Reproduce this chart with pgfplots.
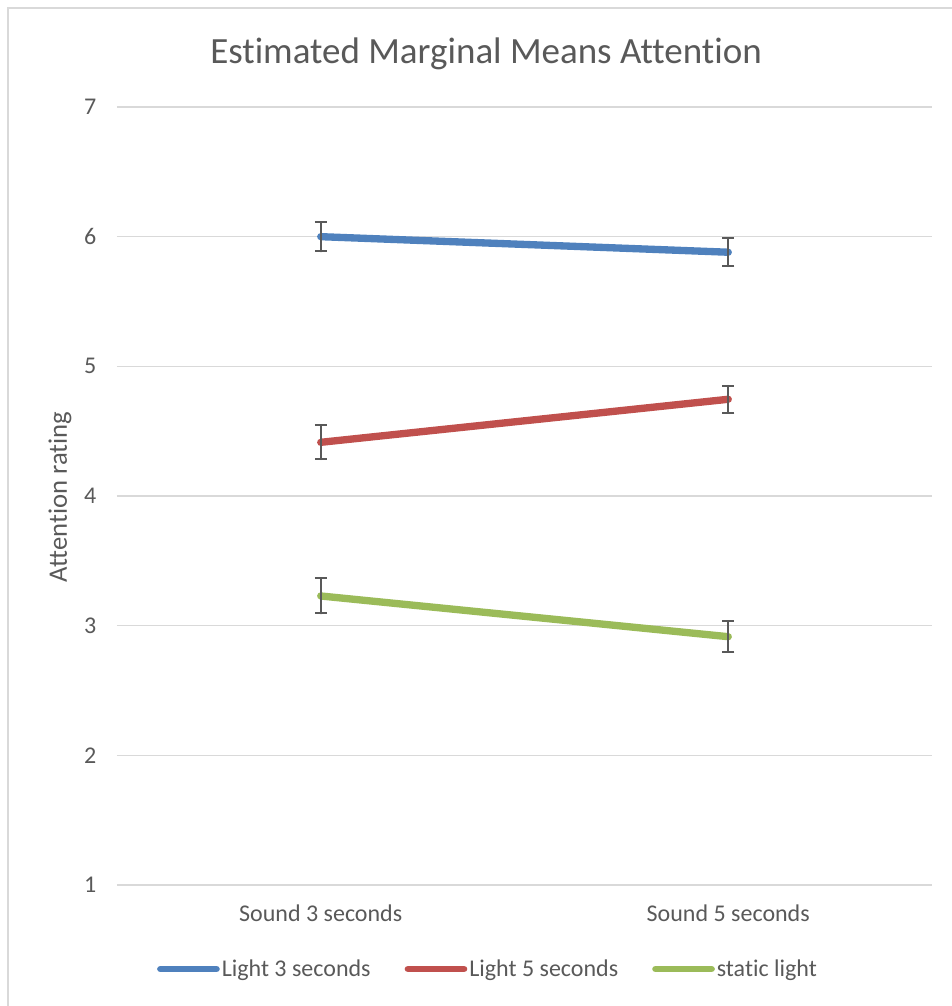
\documentclass[border=0pt]{standalone}
\usepackage{pgfplots}
\pgfplotsset{compat=1.18}
\usepackage{fontspec}
\setmainfont{Carlito}[Ligatures=NoCommon]
\definecolor{txt}{HTML}{595959}
\definecolor{gridc}{HTML}{D9D9D9}
\definecolor{cblue}{HTML}{4F81BD}
\definecolor{cred}{HTML}{C0504D}
\definecolor{cgreen}{HTML}{9BBB59}
\definecolor{errc}{HTML}{595959}
\begin{document}
\begin{tikzpicture}
\useasboundingbox (-87.75pt,-90.75pt) rectangle (626.25pt,663.75pt);
\draw[gridc, line width=1pt] (-81.75pt,-95pt) -- (-81.75pt,657.75pt) -- (630pt,657.75pt);
\begin{axis}[
  at={(0pt,0pt)}, anchor=south west,
  scale only axis, width=611.25pt, height=583.5pt,
  xmin=-0.5, xmax=1.5, ymin=1, ymax=7,
  xtick={0,1}, xticklabels={Sound 3 seconds, Sound 5 seconds},
  ytick={1,2,3,4,5,6,7},
  major tick length=0pt,
  axis line style={draw=none},
  ymajorgrids, grid style={gridc, line width=1pt},
  /pgf/number format/assume math mode=true,
  tick label style={font=\fontsize{18}{21.6}\selectfont, text=txt},
  yticklabel style={xshift=-12pt},
  xticklabel style={yshift=-11pt},
  title={Estimated Marginal Means Attention},
  title style={at={(axis description cs:0.4528,1.0578)}, anchor=center, font=\fontsize{27.75}{33}\selectfont, text=txt},
  legend style={draw=none, fill=none, at={(axis description cs:0.4552,-0.108)}, anchor=center,
    legend columns=3, font=\fontsize{18}{21.6}\selectfont, text=txt,
    /tikz/every even column/.append style={column sep=24pt},
    nodes={inner xsep=1.5pt}},
  legend image code/.code={\draw[#1, line width=5pt, line cap=round] (0pt,0pt) -- (42pt,0pt);},
  clip=false,
]
\addplot[cblue, line width=5.5pt, line cap=round, mark=none,
  error bars/.cd, y dir=both, y explicit,
  error bar style={errc, line width=1.5pt},
  error mark options={errc, line width=1.5pt, mark size=4.5pt, rotate=90}]
  coordinates {(0,6.00) +- (0,0.113) (1,5.88) +- (0,0.108)};
\addlegendentry{Light 3 seconds}
\addplot[cred, line width=5.5pt, line cap=round, mark=none,
  error bars/.cd, y dir=both, y explicit,
  error bar style={errc, line width=1.5pt},
  error mark options={errc, line width=1.5pt, mark size=4.5pt, rotate=90}]
  coordinates {(0,4.414) +- (0,0.13) (1,4.746) +- (0,0.104)};
\addlegendentry{Light 5 seconds}
\addplot[cgreen, line width=5.5pt, line cap=round, mark=none,
  error bars/.cd, y dir=both, y explicit,
  error bar style={errc, line width=1.5pt},
  error mark options={errc, line width=1.5pt, mark size=4.5pt, rotate=90}]
  coordinates {(0,3.229) +- (0,0.135) (1,2.915) +- (0,0.118)};
\addlegendentry{static light}
\end{axis}
\node[rotate=90, anchor=center, text=txt, font=\fontsize{20}{24}\selectfont] at (-42.75pt,291pt) {Attention rating};
\end{tikzpicture}
\end{document}
